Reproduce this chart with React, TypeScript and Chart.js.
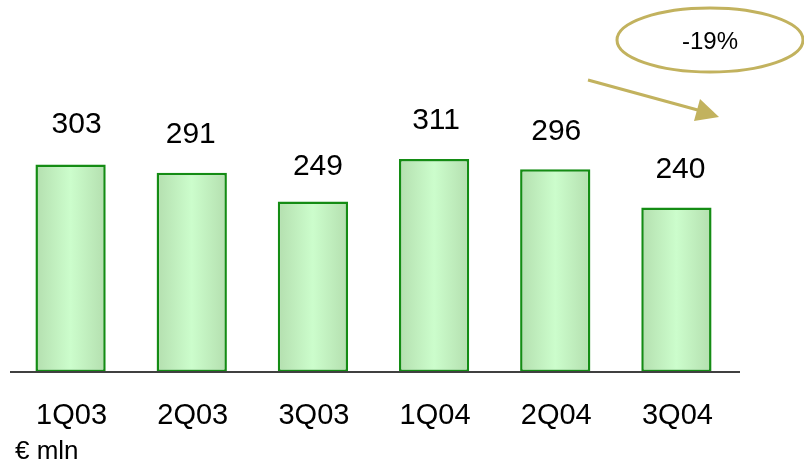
import React, { useEffect, useRef } from "react";
import { Chart, registerables } from "chart.js";

Chart.register(...registerables);

const categories = ["1Q03", "2Q03", "3Q03", "1Q04", "2Q04", "3Q04"];
const values = [303, 291, 249, 311, 296, 240];
const unitLabel = "€ mln";
const changeLabel = "-19%";

const FONT = "'Liberation Sans', Arial, sans-serif";
const GOLD = "#c2b25e";
// small per-label nudges (layout only), as in the original slide
const labelNudgeX = [6, -1, 5, 2, 1, 4];
const labelGap = [40, 38, 35, 38, 38, 38];

const overlay = {
  id: "overlay",
  afterDatasetsDraw(chart: any) {
    const { ctx, scales } = chart;
    const xs = scales.x;
    const ys = scales.y;
    const base = ys.getPixelForValue(0);
    ctx.save();
    // baseline
    ctx.strokeStyle = "#404040";
    ctx.lineWidth = 2;
    ctx.beginPath();
    ctx.moveTo(10, base);
    ctx.lineTo(740, base);
    ctx.stroke();
    // value labels & categories
    ctx.fillStyle = "#000";
    ctx.textAlign = "center";
    ctx.textBaseline = "middle";
    ctx.font = `30px ${FONT}`;
    values.forEach((v, i) => {
      const x = xs.getPixelForValue(i);
      const y = ys.getPixelForValue(v);
      ctx.fillText(String(v), x + labelNudgeX[i], y - labelGap[i]);
    });
    ctx.font = `29px ${FONT}`;
    categories.forEach((c, i) => {
      const x = xs.getPixelForValue(i);
      ctx.fillText(c, x + 1, base + 44);
    });
    // unit
    ctx.textAlign = "left";
    ctx.font = `26px ${FONT}`;
    ctx.fillText(unitLabel, 15, 452);
    // ellipse
    ctx.strokeStyle = GOLD;
    ctx.lineWidth = 3;
    ctx.beginPath();
    ctx.ellipse(710, 40, 93, 32, 0, 0, Math.PI * 2);
    ctx.stroke();
    ctx.fillStyle = "#000";
    ctx.textAlign = "center";
    ctx.font = `24px ${FONT}`;
    ctx.fillText(changeLabel, 710, 42);
    // arrow
    ctx.strokeStyle = GOLD;
    ctx.lineWidth = 3;
    ctx.beginPath();
    ctx.moveTo(588, 80);
    ctx.lineTo(705, 112);
    ctx.stroke();
    ctx.fillStyle = GOLD;
    ctx.beginPath();
    ctx.moveTo(719, 117);
    ctx.lineTo(700, 99);
    ctx.lineTo(694, 121);
    ctx.closePath();
    ctx.fill();
    ctx.restore();
  },
};

export default function App() {
  const ref = useRef<HTMLCanvasElement>(null);
  useEffect(() => {
    document.body.style.margin = "0";
    const canvas = ref.current!;
    const chart = new Chart(canvas, {
      type: "bar",
      data: {
        labels: categories,
        datasets: [
          {
            data: values,
            backgroundColor: (c: any) => {
              const ch = c.chart;
              const xs = ch.scales && ch.scales.x;
              if (!xs || !ch.chartArea) return "#ccfccc";
              const cx = xs.getPixelForValue(c.dataIndex);
              const g = ch.ctx.createLinearGradient(cx - 35, 0, cx + 35, 0);
              g.addColorStop(0, "#b4dfaf");
              g.addColorStop(0.5, "#ccfdcc");
              g.addColorStop(1, "#b4dfaf");
              return g;
            },
            borderColor: "#148c14",
            borderWidth: 2.5,
            borderSkipped: false,
            barPercentage: 0.58,
            categoryPercentage: 1,
          },
        ],
      },
      options: {
        responsive: false,
        animation: false,
        maintainAspectRatio: false,
        layout: { padding: { left: 10, right: 67, top: 29.5, bottom: 95 } },
        scales: {
          x: { display: false },
          y: { display: false, min: 0, max: 500 },
        },
        plugins: { legend: { display: false }, tooltip: { enabled: false } },
      },
      plugins: [overlay],
    });
    return () => chart.destroy();
  }, []);
  return <canvas ref={ref} width={804} height={467} style={{ display: "block" }} />;
}
